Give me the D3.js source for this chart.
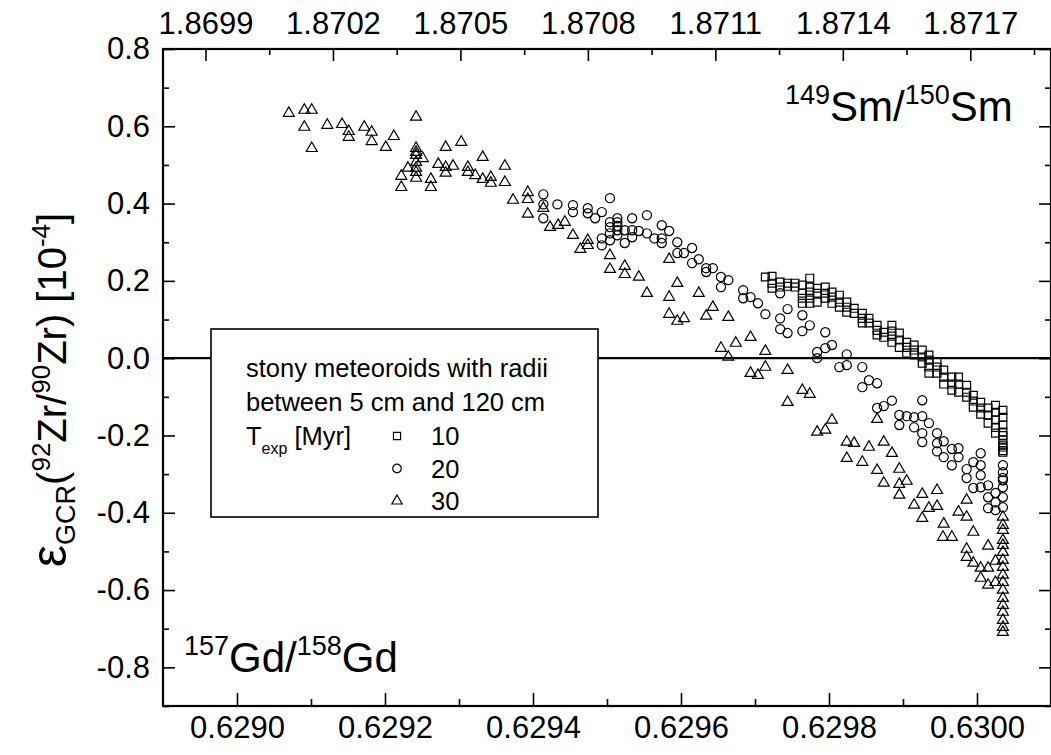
<!DOCTYPE html>
<html>
<head>
<meta charset="utf-8">
<script src="https://cdn.jsdelivr.net/npm/d3@7"></script>
<style>
html,body{margin:0;padding:0;background:#fff;}
svg{display:block;}
text{font-family:"Liberation Sans",Arial,Helvetica,sans-serif;fill:#000;}
</style>
</head>
<body>
<svg id="chart" width="1051" height="755"></svg>
<script>
// ---------- data ----------
// T_exp = 10 Myr (squares): [157Gd/158Gd, eps]
const series10 = [
[0.629714,0.210],[0.629723,0.212],[0.629723,0.194],[0.629723,0.181],[0.629734,0.197],[0.629734,0.184],
[0.629744,0.194],[0.629744,0.186],[0.629754,0.194],[0.629754,0.184],[0.629764,0.189],[0.629764,0.168],
[0.629764,0.155],[0.629764,0.142],[0.629774,0.207],[0.629774,0.184],[0.629774,0.171],[0.629774,0.155],
[0.629774,0.142],[0.629784,0.181],[0.629784,0.168],[0.629784,0.145],[0.629795,0.184],[0.629795,0.168],
[0.629795,0.155],[0.629804,0.171],[0.629804,0.158],[0.629804,0.142],[0.629814,0.163],[0.629814,0.145],
[0.629814,0.132],[0.629824,0.145],[0.629824,0.132],[0.629824,0.119],[0.629834,0.129],[0.629834,0.116],
[0.629845,0.116],[0.629845,0.103],[0.629845,0.091],[0.629854,0.103],[0.629854,0.091],[0.629865,0.085],
[0.629865,0.072],[0.629865,0.060],[0.629874,0.067],[0.629874,0.054],[0.629885,0.085],[0.629885,0.070],
[0.629885,0.057],[0.629885,0.041],[0.629895,0.065],[0.629895,0.047],[0.629895,0.028],[0.629905,0.041],
[0.629905,0.028],[0.629905,0.013],[0.629915,0.034],[0.629915,0.021],[0.629915,0.008],[0.629926,0.021],
[0.629926,0.003],[0.629926,-0.013],[0.629935,0.008],[0.629935,-0.005],[0.629935,-0.023],[0.629935,-0.039],
[0.629946,-0.010],[0.629946,-0.023],[0.629946,-0.039],[0.629955,-0.031],[0.629955,-0.049],[0.629955,-0.067],
[0.629966,-0.049],[0.629966,-0.067],[0.629966,-0.083],[0.629975,-0.049],[0.629975,-0.067],[0.629975,-0.088],
[0.629986,-0.070],[0.629986,-0.088],[0.629986,-0.101],[0.629995,-0.096],[0.629995,-0.111],[0.629995,-0.127],
[0.630005,-0.114],[0.630005,-0.129],[0.630005,-0.145],[0.630015,-0.129],[0.630015,-0.147],[0.630015,-0.168],
[0.630025,-0.122],[0.630025,-0.140],[0.630025,-0.160],[0.630025,-0.179],[0.630025,-0.194],
[0.630035,-0.135],[0.630035,-0.153],[0.630035,-0.173],[0.630035,-0.191],[0.630035,-0.200],[0.630035,-0.212],
[0.630035,-0.225],[0.630035,-0.230],[0.630035,-0.239],[0.630035,-0.243]
];
// T_exp = 20 Myr (circles)
const series20 = [
[0.629414,0.424],[0.629414,0.398],[0.629414,0.362],[0.629433,0.398],[0.629454,0.396],[0.629454,0.378],
[0.629474,0.388],[0.629474,0.375],[0.629493,0.378],[0.629484,0.362],[0.629504,0.414],[0.629504,0.352],
[0.629504,0.339],[0.629504,0.323],[0.629514,0.362],[0.629514,0.352],[0.629514,0.342],[0.629514,0.331],
[0.629514,0.318],[0.629493,0.310],[0.629493,0.292],[0.629504,0.305],[0.629524,0.331],[0.629524,0.298],
[0.629534,0.362],[0.629534,0.331],[0.629534,0.313],[0.629543,0.329],[0.629554,0.370],[0.629554,0.323],
[0.629564,0.310],[0.629574,0.344],[0.629574,0.310],[0.629574,0.298],[0.629584,0.329],[0.629595,0.300],
[0.629595,0.272],[0.629604,0.272],[0.629615,0.285],[0.629615,0.246],[0.629624,0.256],[0.629634,0.233],
[0.629634,0.223],[0.629643,0.233],[0.629654,0.210],[0.629654,0.184],[0.629664,0.202],[0.629684,0.176],
[0.629684,0.155],[0.629694,0.158],[0.629704,0.142],[0.629714,0.114],[0.629734,0.168],[0.629744,0.127],
[0.629734,0.103],[0.629734,0.075],[0.629744,0.065],[0.629764,0.111],[0.629764,0.070],[0.629774,0.085],
[0.629795,0.067],[0.629784,0.016],[0.629784,0.000],[0.629795,0.026],[0.629804,0.034],[0.629824,0.010],
[0.629814,-0.023],[0.629824,-0.018],[0.629845,-0.023],[0.629845,-0.075],[0.629854,-0.057],[0.629865,-0.065],
[0.629865,-0.129],[0.629874,-0.124],[0.629885,-0.110],[0.629926,-0.109],[0.629895,-0.147],[0.629905,-0.150],
[0.629915,-0.153],[0.629926,-0.150],[0.629935,-0.168],[0.629895,-0.173],[0.629915,-0.179],[0.629926,-0.194],
[0.629926,-0.217],[0.629946,-0.194],[0.629946,-0.220],[0.629946,-0.241],[0.629955,-0.215],[0.629955,-0.256],
[0.629966,-0.235],[0.629975,-0.233],[0.629975,-0.256],[0.629966,-0.277],[0.629986,-0.287],[0.629986,-0.310],
[0.629995,-0.269],[0.630005,-0.246],[0.630005,-0.277],[0.630005,-0.303],[0.629995,-0.336],[0.630005,-0.334],
[0.630015,-0.329],[0.630015,-0.360],[0.630015,-0.388],[0.630025,-0.349],[0.630025,-0.373],[0.630025,-0.393],
[0.630035,-0.277],[0.630035,-0.295],[0.630035,-0.310],[0.630035,-0.316],[0.630035,-0.334],[0.630035,-0.360],
[0.630035,-0.386]
];
// T_exp = 30 Myr (triangles)
const series30 = [
[0.629070,0.634],[0.629091,0.642],[0.629101,0.642],[0.629091,0.598],[0.629101,0.543],[0.629122,0.603],
[0.629142,0.605],[0.629151,0.587],[0.629151,0.572],[0.629172,0.598],[0.629182,0.585],[0.629182,0.561],
[0.629201,0.546],[0.629212,0.574],[0.629242,0.624],[0.629242,0.543],[0.629242,0.533],[0.629242,0.525],
[0.629242,0.507],[0.629242,0.492],[0.629242,0.481],[0.629242,0.466],[0.629251,0.517],[0.629231,0.492],
[0.629222,0.471],[0.629222,0.442],[0.629262,0.463],[0.629262,0.442],[0.629272,0.502],[0.629282,0.546],
[0.629282,0.494],[0.629282,0.479],[0.629292,0.497],[0.629303,0.559],[0.629312,0.494],[0.629312,0.481],
[0.629322,0.473],[0.629332,0.520],[0.629332,0.463],[0.629343,0.468],[0.629343,0.453],[0.629362,0.497],
[0.629362,0.455],[0.629373,0.409],[0.629393,0.429],[0.629393,0.411],[0.629393,0.373],[0.629414,0.388],
[0.629423,0.339],[0.629434,0.344],[0.629443,0.352],[0.629454,0.318],[0.629464,0.282],[0.629474,0.305],
[0.629474,0.292],[0.629504,0.266],[0.629504,0.230],[0.629524,0.238],[0.629524,0.217],[0.629543,0.210],
[0.629554,0.168],[0.629584,0.256],[0.629584,0.158],[0.629595,0.194],[0.629584,0.114],[0.629595,0.096],
[0.629604,0.103],[0.629624,0.168],[0.629634,0.109],[0.629643,0.132],[0.629664,0.106],[0.629654,0.026],
[0.629664,0.003],[0.629674,0.039],[0.629694,0.054],[0.629714,0.018],[0.629694,-0.039],[0.629704,-0.044],
[0.629714,-0.023],[0.629744,-0.031],[0.629744,-0.114],[0.629764,-0.083],[0.629774,-0.093],[0.629804,-0.160],
[0.629784,-0.191],[0.629795,-0.186],[0.629824,-0.217],[0.629834,-0.220],[0.629854,-0.230],[0.629874,-0.217],
[0.629865,-0.158],[0.629885,-0.246],[0.629824,-0.259],[0.629845,-0.269],[0.629865,-0.290],[0.629895,-0.287],
[0.629874,-0.323],[0.629895,-0.326],[0.629905,-0.318],[0.629895,-0.354],[0.629926,-0.352],[0.629946,-0.342],
[0.629915,-0.380],[0.629935,-0.388],[0.629946,-0.383],[0.629926,-0.414],[0.629955,-0.429],[0.629954,-0.463],
[0.629966,-0.463],[0.629975,-0.398],[0.629986,-0.411],[0.629986,-0.367],[0.629995,-0.450],[0.630015,-0.486],
[0.629986,-0.494],[0.629986,-0.515],[0.629995,-0.530],[0.630005,-0.543],[0.630015,-0.543],[0.630025,-0.525],
[0.630005,-0.569],[0.630015,-0.587],[0.630025,-0.580],
[0.630035,-0.411],[0.630035,-0.432],[0.630035,-0.445],[0.630035,-0.471],[0.630035,-0.484],[0.630035,-0.502],
[0.630035,-0.523],[0.630035,-0.541],[0.630035,-0.561],[0.630035,-0.580],[0.630035,-0.600],[0.630035,-0.621],
[0.630035,-0.639],[0.630035,-0.657],[0.630035,-0.678],[0.630035,-0.696],[0.630035,-0.709]
];
const legendLabels = ["10","20","30"];
const legendLines = ["stony meteoroids with radii","between 5 cm and 120 cm"];

const xTicksBottom = [0.6290,0.6292,0.6294,0.6296,0.6298,0.6300];
const xTickLabelsBottom = ["0.6290","0.6292","0.6294","0.6296","0.6298","0.6300"];
const xMinorBottom = [0.6291,0.6293,0.6295,0.6297,0.6299];
const xTicksTop = [1.8699,1.8702,1.8705,1.8708,1.8711,1.8714,1.8717];
const xTickLabelsTop = ["1.8699","1.8702","1.8705","1.8708","1.8711","1.8714","1.8717"];
const xMinorTop = [1.87005,1.87035,1.87065,1.87095,1.87125,1.87155,1.87185];
const yTicks = [-0.8,-0.6,-0.4,-0.2,0.0,0.2,0.4,0.6,0.8];
const yTickLabels = ["-0.8","-0.6","-0.4","-0.2","0.0","0.2","0.4","0.6","0.8"];
const yMinor = [-0.9,-0.7,-0.5,-0.3,-0.1,0.1,0.3,0.5,0.7];

// ---------- layout ----------
const L = 163, R = 1051, T = 49, B = 706;
const svg = d3.select("#chart");
const x = d3.scaleLinear().domain([0.6289, 0.6301]).range([L, R]);
const xTop = d3.scaleLinear().domain([1.8698, 1.87189]).range([L, R]);
const y = d3.scaleLinear().domain([-0.9, 0.8]).range([B, T]);

const tickFont = 31;
function styleAxis(g){
  g.select(".domain").remove();
  g.selectAll(".tick line").attr("stroke","#000").attr("stroke-width",1.6);
  g.selectAll(".tick text").attr("font-size",tickFont).attr("font-family","Liberation Sans, Arial, sans-serif").attr("fill","#000");
}
// bottom
svg.append("g").attr("transform",`translate(0,${B})`)
  .call(d3.axisBottom(x).tickValues(xTicksBottom).tickSize(-13).tickPadding(10)
    .tickFormat((d,i)=>xTickLabelsBottom[i])).call(styleAxis);
svg.append("g").attr("transform",`translate(0,${B})`)
  .call(d3.axisBottom(x).tickValues(xMinorBottom).tickSize(-7).tickFormat("")).call(styleAxis);
// top
svg.append("g").attr("transform",`translate(0,${T})`)
  .call(d3.axisTop(xTop).tickValues(xTicksTop).tickSize(-12).tickPadding(15)
    .tickFormat((d,i)=>xTickLabelsTop[i])).call(styleAxis);
svg.append("g").attr("transform",`translate(0,${T})`)
  .call(d3.axisTop(xTop).tickValues(xMinorTop).tickSize(-6).tickFormat("")).call(styleAxis);
// left
svg.append("g").attr("transform",`translate(${L},0)`)
  .call(d3.axisLeft(y).tickValues(yTicks).tickSize(-12).tickPadding(13)
    .tickFormat((d,i)=>yTickLabels[i])).call(styleAxis);
svg.append("g").attr("transform",`translate(${L},0)`)
  .call(d3.axisLeft(y).tickValues(yMinor).tickSize(-6).tickFormat("")).call(styleAxis);
// right
svg.append("g").attr("transform",`translate(${R},0)`)
  .call(d3.axisRight(y).tickValues(yTicks).tickSize(-12).tickFormat("")).call(styleAxis);
svg.append("g").attr("transform",`translate(${R},0)`)
  .call(d3.axisRight(y).tickValues(yMinor).tickSize(-6).tickFormat("")).call(styleAxis);

// frame
svg.append("rect").attr("x",L).attr("y",T).attr("width",R-L).attr("height",B-T)
  .attr("fill","none").attr("stroke","#000").attr("stroke-width",2.2);

// zero line
svg.append("line").attr("x1",L).attr("x2",R).attr("y1",y(0)).attr("y2",y(0))
  .attr("stroke","#000").attr("stroke-width",2.2);

// markers
const sym = {
  sq: d3.symbol().type(d3.symbolSquare).size(62),
  ci: d3.symbol().type(d3.symbolCircle).size(66),
  tr: d3.symbol().type(d3.symbolTriangle).size(52)
};
const seriesDefs = [
  {data: series10, s: sym.sq},
  {data: series20, s: sym.ci},
  {data: series30, s: sym.tr}
];
const gm = svg.append("g");
seriesDefs.forEach(sd=>{
  gm.append("g").selectAll("path").data(sd.data).join("path")
    .attr("d", sd.s())
    .attr("transform", d=>`translate(${x(d[0])},${y(d[1])})`)
    .attr("fill","none").attr("stroke","#000").attr("stroke-width",1.2);
});

// legend box
const lg = svg.append("g");
lg.append("rect").attr("x",211).attr("y",329).attr("width",387).attr("height",188)
  .attr("fill","#fff").attr("stroke","#000").attr("stroke-width",1.6);
const lfs = 25.5;
legendLines.forEach((t,i)=>{
  lg.append("text").attr("x",246).attr("y",377+i*34).attr("font-size",lfs).text(t);
});
const tt = lg.append("text").attr("x",246).attr("y",445).attr("font-size",lfs);
tt.append("tspan").text("T");
tt.append("tspan").attr("dy",9).attr("font-size",16).text("exp");
tt.append("tspan").attr("dy",-9).text(" [Myr]");
const legSyms = [
  d3.symbol().type(d3.symbolSquare).size(50),
  d3.symbol().type(d3.symbolCircle).size(58),
  d3.symbol().type(d3.symbolTriangle).size(46)
];
legendLabels.forEach((lab,i)=>{
  const yy = 436 + i*32.5;
  lg.append("path").attr("d",legSyms[i]()).attr("transform",`translate(397,${yy})`)
    .attr("fill","none").attr("stroke","#000").attr("stroke-width",1.2);
  lg.append("text").attr("x",431).attr("y",yy+9).attr("font-size",lfs).text(lab);
});

// annotations
function iso(xp, yp, parts){
  const t = svg.append("text").attr("x",xp).attr("y",yp).attr("font-size",42);
  let up = false;
  parts.forEach(p=>{
    if(p.sup){ t.append("tspan").attr("dy", -17).attr("font-size",27).text(p.t); up = true; }
    else { t.append("tspan").attr("dy", up?17:0).text(p.t); up = false; }
  });
}
iso(785,121,[{t:"149",sup:true},{t:"Sm/"},{t:"150",sup:true},{t:"Sm"}]);
iso(184,672,[{t:"157",sup:true},{t:"Gd/"},{t:"158",sup:true},{t:"Gd"}]);

// y-axis title
const yt = svg.append("text").attr("transform","translate(66,390) rotate(-90)")
  .attr("text-anchor","middle").attr("font-size",40);
yt.append("tspan").attr("font-size",50).text("ε");
yt.append("tspan").attr("dy",9).attr("font-size",27).text("GCR");
yt.append("tspan").attr("dy",-9).text("(");
yt.append("tspan").attr("dy",-16).attr("font-size",26).text("92");
yt.append("tspan").attr("dy",16).text("Zr/");
yt.append("tspan").attr("dy",-16).attr("font-size",26).text("90");
yt.append("tspan").attr("dy",16).text("Zr) [10");
yt.append("tspan").attr("dy",-16).attr("font-size",26).text("-4");
yt.append("tspan").attr("dy",16).text("]");
</script>
</body>
</html>
